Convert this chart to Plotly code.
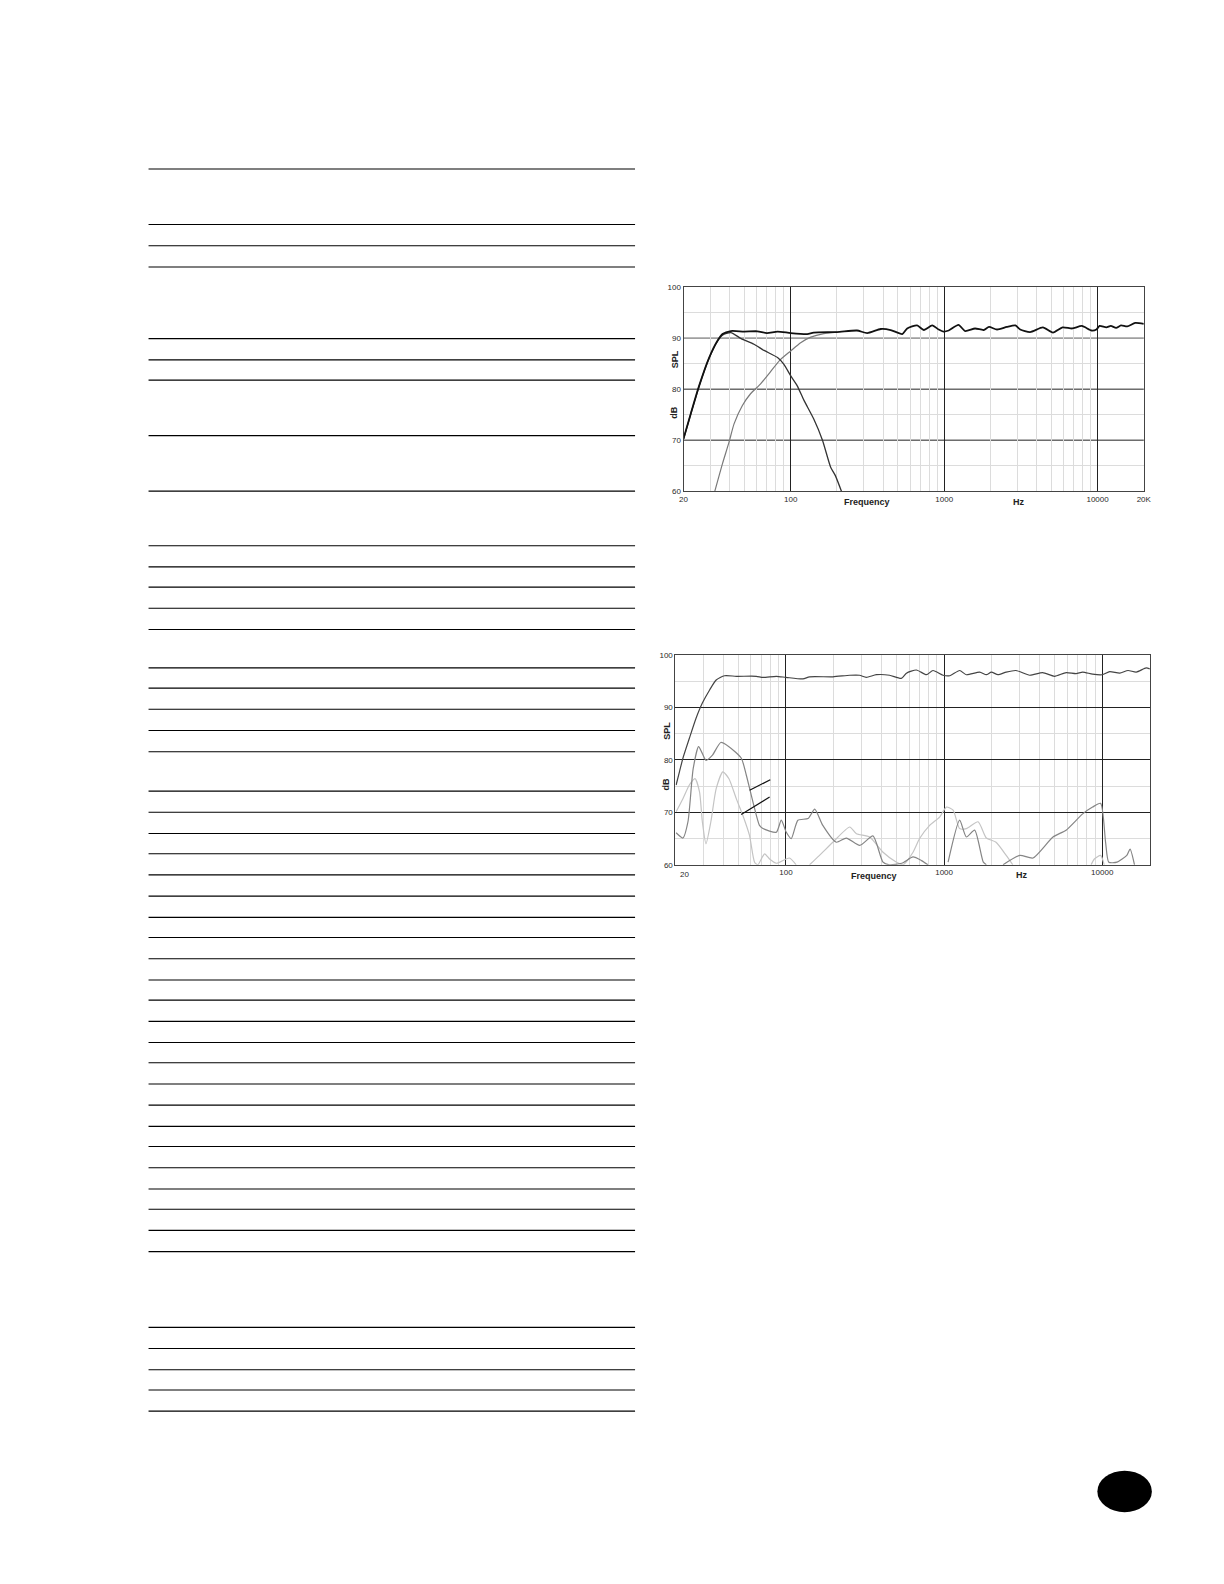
import plotly.graph_objects as go

W, H = 1224, 1584

# ---------------- data ----------------
# Chart 1: frequency response (system, low-pass section, high-pass section)
c1_total_f = [20, 22.3, 25.3, 29.4, 33.3, 35.9, 40.7, 49.7, 60.6, 70, 82, 100, 128, 141, 200, 270, 315, 386, 448,
              533, 574, 666, 737, 836, 921, 990, 1070, 1240, 1370, 1590, 1810, 1960, 2210, 2560, 2910, 3130, 3630,
              4400, 5120, 5910, 6840, 7900, 9130, 9820, 10300, 11400, 12200, 13200, 14200, 15600, 17600, 20000]
c1_total_db = [70.3, 75.2, 80.7, 86.2, 89.5, 90.8, 91.4, 91.3, 91.35, 91.0, 91.3, 91.0, 90.8, 91.1, 91.2, 91.5, 91.0,
               91.8, 91.6, 90.8, 91.9, 92.5, 91.6, 92.5, 91.7, 91.3, 91.5, 92.6, 91.4, 91.9, 91.6, 92.2, 91.7, 92.2,
               92.5, 91.7, 91.2, 92.1, 91.1, 92.1, 91.9, 92.4, 91.5, 91.7, 92.4, 92.1, 92.4, 92.0, 92.5, 92.3, 93.0,
               92.8]
c1_low_f = [20, 22.3, 25.3, 29.4, 33.3, 35.9, 40.7, 47.5, 57.6, 67, 82, 90, 100, 110, 122, 141, 161, 182, 195, 214]
c1_low_db = [70.2, 75.1, 80.6, 86.1, 89.4, 90.6, 91.1, 89.9, 88.8, 87.6, 86.2, 84.9, 82.6, 80.7, 77.8, 74.2, 70.0,
             64.7, 63.1, 60.0]
c1_high_f = [32, 35.9, 39.6, 42.7, 48.4, 54.7, 63.4, 73.3, 85, 100, 116, 135, 164, 200]
c1_high_db = [60.0, 65.4, 69.6, 73.2, 76.8, 79.1, 81.0, 83.3, 85.7, 87.5, 89.1, 90.2, 90.9, 91.2]

# Chart 2: fundamental, 2nd and 3rd harmonic distortion
c2_fund_f = [20.2, 21.2, 22.3, 24.5, 27, 29.6, 32.9, 36.2, 40.9, 48.5, 64.9, 71.5, 86.9, 100, 128, 141, 198, 253,
             292, 322, 373, 452, 536, 578, 668, 773, 851, 984, 1087, 1254, 1382, 1678, 1850, 1990, 2190, 2470, 2850,
             3480, 4200, 4990, 5910, 6830, 7520, 8690, 10000, 11150, 12900, 14560, 16400, 18950, 20000]
c2_fund_db = [75.2, 77.7, 80.3, 84.1, 87.9, 90.8, 93.3, 95.2, 96.0, 95.9, 95.9, 95.7, 95.9, 95.7, 95.4, 95.8, 95.8,
              96.1, 96.1, 95.7, 96.2, 96.1, 95.5, 96.5, 97.1, 96.2, 97.0, 96.1, 96.0, 97.0, 96.2, 96.7, 96.2, 96.7,
              96.2, 96.7, 97.0, 96.1, 96.6, 95.9, 96.6, 96.4, 96.7, 96.3, 96.2, 96.8, 96.5, 97.0, 96.7, 97.5, 97.3]
c2_h2_f = [20.2, 22.3, 24, 25.9, 28, 29.6, 31.2, 34.3, 38.7, 43.6, 52.2, 56.1, 61.8, 68, 71.5, 86.9, 93.4, 100.5,
           108, 119, 138, 152, 171, 208, 241, 293, 355, 411, 452, 540, 636, 720, 790, None,
           1060, 1254, 1382, 1560, 1770, 1850, None,
           2360, 3010, 3650, 4880, 5910, 7520, 8690, 9770, 10500, 11000, 12400, 14300, 15000, 16000]
c2_h2_db = [66.1, 65.1, 68.2, 78.3, 82.5, 81.2, 79.9, 80.9, 83.3, 82.5, 80.3, 77.1, 72.0, 67.5, 66.9, 66.2, 68.5,
            66.2, 65.0, 68.5, 68.8, 70.6, 67.5, 64.3, 65.1, 63.7, 65.5, 60.5, 60.0, 60.3, 61.5, 60.8, 60.0, None,
            60.5, 68.5, 65.3, 66.6, 60.5, 60.0, None,
            60.0, 61.8, 61.3, 65.3, 66.6, 69.7, 71.0, 71.7, 64.3, 60.5, 60.5, 61.8, 63.0, 60.0]
c2_h3_f = [20.2, 22.3, 24.5, 26.6, 28.4, 29.6, 31.2, 33.5, 36.2, 39.9, 43.6, 48.5, 53.4, 58.8, 63.3, 66.4, 73.3,
           78.8, 86.9, 105, 116, None, 141, 163, 198, 253, 279, 338, 411, 500, 550, 636, 700, 810, 937, 1034,
           1140, 1254, 1382, 1640, 1850, 2130, 2470, 2720, None, 8500, 8920, 9770, 10300]
c2_h3_db = [70.1, 72.6, 75.2, 76.4, 73.9, 68.2, 64.0, 68.2, 74.5, 77.7, 76.4, 72.6, 69.4, 65.6, 60.5, 60.0, 62.1,
            61.1, 60.3, 61.3, 60.0, None, 60.0, 61.8, 64.3, 67.2, 65.9, 65.3, 62.4, 60.5, 60.0, 62.4, 65.0, 67.5,
            69.1, 71.0, 70.4, 66.9, 66.9, 68.2, 65.1, 64.3, 61.8, 60.0, None, 60.0, 61.1, 61.8, 60.0]

# callout pointer lines in chart 2 (freq, dB pairs)
callout_a_f = [58.9, 79.6]
callout_a_db = [74.2, 76.2]
callout_b_f = [52.1, 78.8]
callout_b_db = [69.6, 72.9]

# axis ticks
x_major = [20, 100, 1000, 10000, 20000]
x_major_text1 = ["20", "100", "1000", "10000", "20K"]
x_major2 = [100, 1000, 10000]
x_major_text2 = ["100", "1000", "10000"]
x_minor = [30, 40, 50, 60, 70, 80, 90, 200, 300, 400, 500, 600, 700, 800, 900,
           2000, 3000, 4000, 5000, 6000, 7000, 8000, 9000]
y_major = [60, 70, 80, 90, 100]
y_minor = [65, 75, 85, 95]
c1_black_h = [70, 80]
c1_gray_h = [90]

# left-hand table rule positions (page pixels)
rule_y = [167, 222, 243, 264, 335, 356, 376, 431, 486, 540, 561, 581, 602, 623, 661, 681, 702, 723, 744,
          783, 804, 825, 845, 866, 887, 908, 928, 949, 970, 990, 1011, 1032, 1052, 1073, 1094, 1115, 1135,
          1156, 1177, 1197, 1218, 1239, 1314, 1335, 1356, 1376, 1397]

# page-pixel -> paper fraction (includes a small correction for the capture scale)
SX, OX = 0.981, 3.8
SY, OY = 0.9846, 3.6


def px(x):
    return ((x - OX) / SX) / W


def py(y):
    return 1 - ((y - OY) / SY) / H


FONT = "Liberation Sans, Arial, sans-serif"

fig = go.Figure()

# chart 1 traces
fig.add_trace(go.Scatter(x=c1_high_f, y=c1_high_db, mode="lines", line=dict(color="#7a7a7a", width=1.2, shape="spline", smoothing=0.6),
                         xaxis="x", yaxis="y", hoverinfo="skip"))
fig.add_trace(go.Scatter(x=c1_low_f, y=c1_low_db, mode="lines", line=dict(color="#333333", width=1.3, shape="spline", smoothing=0.6),
                         xaxis="x", yaxis="y", hoverinfo="skip"))
fig.add_trace(go.Scatter(x=c1_total_f, y=c1_total_db, mode="lines", line=dict(color="#111111", width=1.8, shape="spline", smoothing=0.6),
                         xaxis="x", yaxis="y", hoverinfo="skip"))

# chart 2 traces
fig.add_trace(go.Scatter(x=c2_h3_f, y=c2_h3_db, mode="lines", line=dict(color="#c4c4c4", width=1.2, shape="spline", smoothing=0.6),
                         xaxis="x2", yaxis="y2", connectgaps=False, hoverinfo="skip"))
fig.add_trace(go.Scatter(x=c2_h2_f, y=c2_h2_db, mode="lines", line=dict(color="#858585", width=1.2, shape="spline", smoothing=0.6),
                         xaxis="x2", yaxis="y2", connectgaps=False, hoverinfo="skip"))
fig.add_trace(go.Scatter(x=c2_fund_f, y=c2_fund_db, mode="lines", line=dict(color="#444444", width=1.2, shape="spline", smoothing=0.6),
                         xaxis="x2", yaxis="y2", hoverinfo="skip"))
fig.add_trace(go.Scatter(x=callout_a_f, y=callout_a_db, mode="lines", line=dict(color="#111111", width=1.2),
                         xaxis="x2", yaxis="y2", hoverinfo="skip"))
fig.add_trace(go.Scatter(x=callout_b_f, y=callout_b_db, mode="lines", line=dict(color="#111111", width=1.2),
                         xaxis="x2", yaxis="y2", hoverinfo="skip"))

tickfont = dict(family=FONT, size=8, color="#2a2a2a")


def xaxis_cfg(dom, anchor, vals, texts):
    return dict(type="log", range=[1.30103, 4.30103], domain=dom, anchor=anchor,
                tickvals=vals, ticktext=texts, tickfont=tickfont, ticks="",
                showgrid=True, gridcolor="#222222", gridwidth=1,
                minor=dict(tickvals=x_minor, showgrid=True, gridcolor="#dcdcdc", gridwidth=1, ticks=""),
                showline=True, linecolor="#444444", linewidth=1, mirror=True, zeroline=False, fixedrange=True)


def yaxis_cfg(dom, anchor, major_grid):
    return dict(range=[60, 100], domain=dom, anchor=anchor, tickvals=y_major, tickfont=tickfont, ticks="",
                showgrid=major_grid, gridcolor="#222222", gridwidth=1,
                minor=dict(tickvals=y_minor, showgrid=True, gridcolor="#dcdcdc", gridwidth=1, ticks=""),
                showline=True, linecolor="#444444", linewidth=1, mirror=True, zeroline=False, fixedrange=True)


c1x = [px(677), px(1133)]
c1y = [py(486), py(284)]
c2x = [px(669), px(1139)]
c2y = [py(856), py(648)]

shapes = []
for y in rule_y:
    shapes.append(dict(type="line", xref="paper", yref="paper", x0=px(147), x1=px(629), y0=py(y), y1=py(y),
                       line=dict(color="#000000", width=1.1)))
# chart 1 horizontal reference lines (black at 70/80, gray at 90)
for v in c1_black_h:
    shapes.append(dict(type="line", xref="paper", yref="y", x0=c1x[0], x1=c1x[1], y0=v, y1=v, layer="below",
                       line=dict(color="#222222", width=1)))
for v in c1_gray_h:
    shapes.append(dict(type="line", xref="paper", yref="y", x0=c1x[0], x1=c1x[1], y0=v, y1=v, layer="below",
                       line=dict(color="#a0a0a0", width=1.8)))
# page number badge
shapes.append(dict(type="circle", xref="paper", yref="paper", x0=px(1087), x1=px(1141), y0=py(1497), y1=py(1456),
                   fillcolor="black", line=dict(color="black", width=0)))

bold = dict(family=FONT, size=9, color="#222222")


def label(text, x, y, font, angle=0):
    return dict(text=text, x=px(x), y=py(y), xref="paper", yref="paper", showarrow=False, font=font,
                textangle=angle, xanchor="center", yanchor="middle")


annotations = [
    label("<b>Frequency</b>", 859, 497, bold),
    label("<b>Hz</b>", 1009, 497, bold),
    label("<b>SPL</b>", 668, 355, bold, -90),
    label("<b>dB</b>", 668, 408, bold, -90),
    label("<b>Frequency</b>", 866, 867, bold),
    label("<b>Hz</b>", 1012, 866, bold),
    label("<b>SPL</b>", 660, 723, bold, -90),
    label("<b>dB</b>", 660, 776, bold, -90),
    label("20", 678, 866, tickfont),
]

fig.update_layout(
    autosize=True, margin=dict(l=0, r=0, t=0, b=0),
    paper_bgcolor="white", plot_bgcolor="white", showlegend=False, hovermode=False,
    xaxis=xaxis_cfg(c1x, "y", x_major, x_major_text1),
    yaxis=yaxis_cfg(c1y, "x", False),
    xaxis2=xaxis_cfg(c2x, "y2", x_major2, x_major_text2),
    yaxis2=yaxis_cfg(c2y, "x2", True),
    shapes=shapes, annotations=annotations,
)

fig.write_html(
    "out.html",
    config={"displayModeBar": False, "responsive": True},
    default_width="100vw", default_height="100vh",
    post_script="document.body.style.margin='0';document.body.style.overflow='hidden';",
)
